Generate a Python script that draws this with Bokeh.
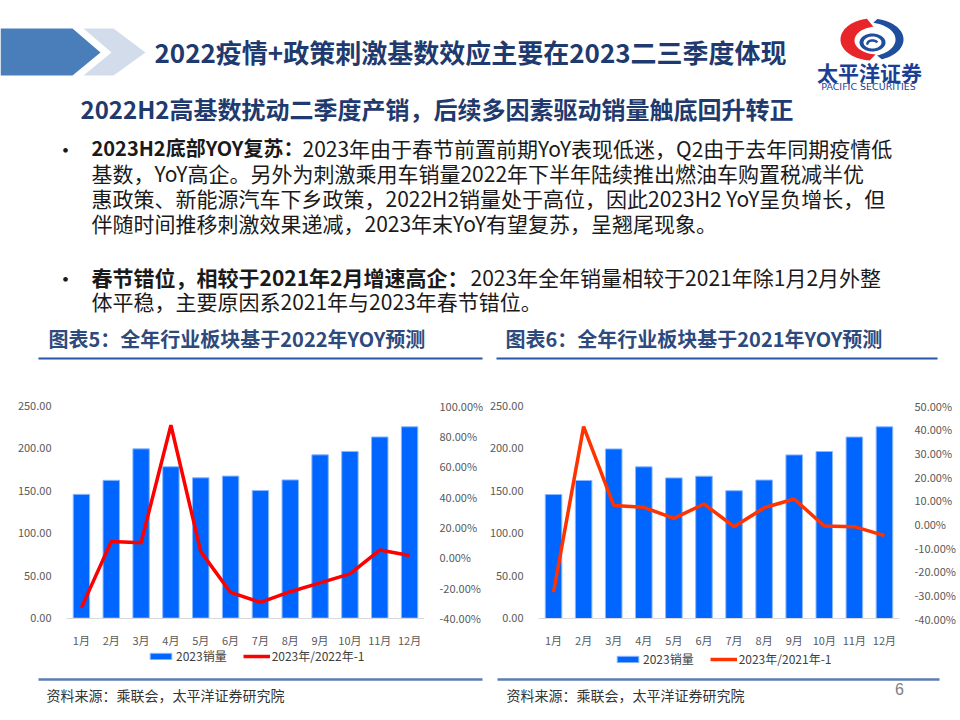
import numpy as np
from bokeh.plotting import figure
from bokeh.models import (Range1d, FactorRange, LinearAxis, FixedTicker,
                          PrintfTickFormatter, Legend, LegendItem)
from bokeh.layouts import column, row
from bokeh.embed import file_html
from bokeh.resources import INLINE
from bokeh.core.properties import value

# ---------------- data ----------------
months = ["1月", "2月", "3月", "4月", "5月", "6月", "7月", "8月", "9月", "10月", "11月", "12月"]
sales_2023 = [145.5, 162.0, 199.0, 178.0, 165.0, 167.0, 150.0, 162.5, 192.0, 196.0, 213.0, 225.0]
yoy_vs_2022 = [-33.1, 10.4, 9.7, 87.0, 3.8, -23.1, -29.6, -22.6, -16.8, -10.9, 4.8, 1.2]
yoy_vs_2021 = [-28.9, 41.1, 7.8, 7.0, 2.3, 8.4, -1.2, 6.8, 10.5, -0.9, -1.2, -5.0]
sales_ticks = [0, 50, 100, 150, 200, 250]
pct_ticks_2022 = [-40, -20, 0, 20, 40, 60, 80, 100]
pct_ticks_2021 = [-40, -30, -20, -10, 0, 10, 20, 30, 40, 50]
bar_label = "2023销量"
line_label_2022 = "2023年/2022年-1"
line_label_2021 = "2023年/2021年-1"

CJK = value("Noto Sans CJK SC")
TITLE_BLUE = "#1F3A6E"


def blank(width, height, y0, y1):
    p = figure(width=width, height=height, x_range=Range1d(0, width),
               y_range=Range1d(y1, y0), output_backend="svg", toolbar_location=None,
               min_border=0)
    p.axis.visible = False
    p.grid.visible = False
    p.outline_line_color = None
    p.background_fill_color = "white"
    p.border_fill_color = "white"
    return p


def txt(p, x, y, s, size, color="#1a1a1a", bold=False, align="left", font=CJK):
    p.text(x=[x], y=[y], text=[s], text_font=font, text_font_size=f"{size}px",
           text_font_style="bold" if bold else "normal", text_color=color,
           text_baseline="middle", text_align=align)


def ell_arc(cx, cy, rx, ry, t0, t1, n=60):
    t = np.radians(np.linspace(t0, t1, n))
    return cx + rx * np.cos(t), cy - ry * np.sin(t)


# ---------------- header ----------------
H_TOP = 375
head = blank(960, H_TOP, 0, H_TOP)
head.patch(x=[0, 72, 100, 72, 0], y=[28, 28, 52, 75, 75], fill_color="#4A7EBB", line_color=None)
head.patch(x=[83, 113, 145, 113, 83, 111], y=[28, 28, 52, 75, 75, 52], fill_color="#D3DCEA", line_color=None)
txt(head, 154, 51, "2022疫情+政策刺激基数效应主要在2023二三季度体现", 26, TITLE_BLUE, True)
txt(head, 80, 108, "2022H2高基数扰动二季度产销，后续多因素驱动销量触底回升转正", 24, TITLE_BLUE, True)

# logo
ox1, oy1 = ell_arc(872, 39, 32, 21, 100, 265)
ix1, iy1 = ell_arc(877, 40, 23, 14, 265, 100)
head.patch(x=np.concatenate([ox1, ix1]), y=np.concatenate([oy1, iy1]), fill_color="#E8262A", line_color=None)
ox2, oy2 = ell_arc(870, 39, 33, 21, 78, -70)
ix2, iy2 = ell_arc(867, 39, 28, 17, -70, 78)
head.patch(x=np.concatenate([ox2, ix2]), y=np.concatenate([oy2, iy2]), fill_color="#1F4E9C", line_color=None)
ox3, oy3 = ell_arc(872, 42, 13, 9, 0, 360)
ix3, iy3 = ell_arc(872, 42, 9, 6, 360, 0)
head.patch(x=np.concatenate([ox3, ix3]), y=np.concatenate([oy3, iy3]), fill_color="#1F4E9C", line_color=None)
sx, sy = ell_arc(872, 43, 5, 3, 200, 20)
head.line(x=sx, y=sy, line_color="#1F4E9C", line_width=2.5)
txt(head, 869, 71, "太平洋证券", 21, "#1C3F94", True, "center")
txt(head, 868, 86, "PACIFIC SECURITIES", 9.5, "#1C3F94", False, "center", value("DejaVu Sans"))

# bullets
txt(head, 54, 147, "•", 22)
txt(head, 91, 147, "2023H2底部YOY复苏：", 20, bold=True)
txt(head, 302, 147, "2023年由于春节前置前期YoY表现低迷，Q2由于去年同期疫情低", 21)
txt(head, 91, 172, "基数，YoY高企。另外为刺激乘用车销量2022年下半年陆续推出燃油车购置税减半优", 21)
txt(head, 91, 197, "惠政策、新能源汽车下乡政策，2022H2销量处于高位，因此2023H2 YoY呈负增长，但", 21)
txt(head, 91, 222, "伴随时间推移刺激效果递减，2023年末YoY有望复苏，呈翘尾现象。", 21)
txt(head, 54, 276, "•", 22)
txt(head, 91, 276, "春节错位，相较于2021年2月增速高企：", 21, bold=True)
txt(head, 470, 276, "2023年全年销量相较于2021年除1月2月外整", 21)
txt(head, 91, 300, "体平稳，主要原因系2021年与2023年春节错位。", 21)

# chart titles
txt(head, 48, 338, "图表5：全年行业板块基于2022年YOY预测", 20, "#2E4A7D", True)
txt(head, 505, 338, "图表6：全年行业板块基于2021年YOY预测", 20, "#2E4A7D", True)
head.line(x=[38, 482], y=[358, 358], line_color="#2756A8", line_width=2)
head.line(x=[496, 937], y=[358, 358], line_color="#2756A8", line_width=2)

# ---------------- charts ----------------
CH_H = 300


def make_chart(width, bl, br, bt, bb, sales_lo, pct_lo, pct_hi, pct_ticks, yoy, line_color,
               line_label, leg_x, leg_y):
    p = figure(width=width, height=CH_H, x_range=FactorRange(*months),
               y_range=Range1d(sales_lo, 250), output_backend="svg", toolbar_location=None,
               min_border_left=bl, min_border_right=br, min_border_top=bt, min_border_bottom=bb)
    p.extra_y_ranges = {"pct": Range1d(pct_lo, pct_hi)}
    p.grid.visible = False
    p.outline_line_color = None
    bars = p.vbar(x=months, top=sales_2023, bottom=0, width=0.55, fill_color="#0066FF",
                  line_color="#8AB8FF", line_width=1)
    ln = p.line(x=months, y=yoy, y_range_name="pct", line_color=line_color, line_width=3.5)

    p.xaxis.fixed_location = 0
    p.xaxis.axis_line_color = "#D9D9D9"
    p.xaxis.major_tick_line_color = None
    p.xaxis.minor_tick_line_color = None
    p.xaxis.major_label_standoff = 8

    p.yaxis.ticker = FixedTicker(ticks=sales_ticks)
    p.yaxis.formatter = PrintfTickFormatter(format="%.2f")
    ax = LinearAxis(y_range_name="pct", ticker=FixedTicker(ticks=pct_ticks),
                    formatter=PrintfTickFormatter(format="%.2f%%"))
    p.add_layout(ax, "right")
    for a in p.yaxis:
        a.axis_line_color = None
        a.major_tick_line_color = None
        a.minor_tick_line_color = None
        a.major_label_standoff = 9
    for a in list(p.xaxis) + list(p.yaxis):
        a.major_label_text_font = "Noto Sans CJK SC"
        a.major_label_text_font_size = "11px"
        a.major_label_text_color = "#595959"

    leg = Legend(items=[LegendItem(label=bar_label, renderers=[bars]),
                        LegendItem(label=line_label, renderers=[ln])],
                 orientation="horizontal", location=(leg_x, leg_y),
                 glyph_width=27, glyph_height=8, label_standoff=2, spacing=16,
                 padding=0, margin=0, border_line_alpha=0, background_fill_alpha=0,
                 label_text_font="Noto Sans CJK SC", label_text_font_size="12px",
                 label_text_color="#404040", label_height=14)
    p.add_layout(leg)
    p.background_fill_color = "white"
    p.border_fill_color = "white"
    return p


# frame extends below the zero line to hold the legend (left: 402..672, right: 405..672)
left = make_chart(486, 66, 54, 27, 3, -63.95, -75.8, 100, pct_ticks_2022, yoy_vs_2022, "#FF0000",
                  line_label_2022, 81, 8)
right = make_chart(474, 47, 61, 30, 3, -63.4, -62.8, 50, pct_ticks_2021, yoy_vs_2021, "#FF3300",
                   line_label_2021, 76, 5)

# ---------------- footer ----------------
foot = blank(960, 720 - H_TOP - CH_H, H_TOP + CH_H, 720)
foot.line(x=[38, 482], y=[679, 679], line_color="#5B7DB1", line_width=2.5)
foot.line(x=[497, 939], y=[679, 679], line_color="#5B7DB1", line_width=2.5)
txt(foot, 46, 694, "资料来源：乘联会，太平洋证券研究院", 14, "#333333")
txt(foot, 506, 694, "资料来源：乘联会，太平洋证券研究院", 14, "#333333")
txt(foot, 899, 688, "6", 16, "#7F7F7F", False, "center", value("Liberation Sans"))

layout = column(head, row(left, right, spacing=0), foot, spacing=0)
open("out.html", "w").write(file_html(layout, INLINE))
